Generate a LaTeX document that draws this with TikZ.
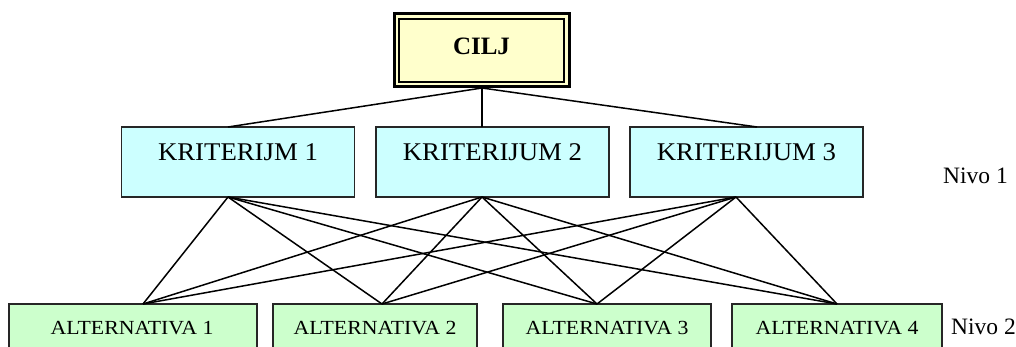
\documentclass[tikz,border=0pt]{standalone}
\usepackage{fontspec}
\setmainfont{Liberation Serif}
\newfontfamily\kfont[FakeStretch=1.05]{Liberation Serif}
\newfontfamily\afont[FakeStretch=1.09]{Liberation Serif}
\definecolor{ciljfill}{HTML}{FFFFCC}
\definecolor{kritfill}{HTML}{CCFFFF}
\definecolor{altfill}{HTML}{CCFFCC}
\begin{document}
\begin{tikzpicture}[x=1pt,y=-1pt,
  kbox/.style={draw=black!85,line width=1.7pt,fill=kritfill,inner sep=0pt,outer sep=0pt,minimum width=233pt,minimum height=70pt},
  abox/.style={draw=black!85,line width=1.7pt,fill=altfill,inner sep=0pt,outer sep=0pt,minimum height=50pt},
  ktext/.style={font=\kfont\fontsize{25.5}{28}\selectfont,inner sep=0pt,anchor=base},
  atext/.style={font=\afont\fontsize{20}{22}\selectfont,inner sep=0pt,anchor=base},
  ntext/.style={font=\fontsize{23.5}{26}\selectfont,inner sep=0pt,anchor=base west},
  link/.style={line width=1.5pt,black}]
\clip (0,0) rectangle (1016,347);
\fill[white] (0,0) rectangle (1016,347);
% goal
\node[draw=black,line width=3pt,fill=ciljfill,inner sep=0pt,outer sep=0pt,minimum width=175pt,minimum height=73pt] (cilj) at (481.5,50.5) {};
\node[draw=black,line width=1.8pt,inner sep=0pt,outer sep=0pt,minimum width=165pt,minimum height=63pt] (ciljin) at (481.5,50.5) {};
\node[font=\fontsize{25}{28}\selectfont\bfseries,inner sep=0pt,anchor=base] (ciljt) at (481.5,55) {CILJ};
% criteria
\node[kbox] (k1) at (238,162) {};
\node[kbox] (k2) at (492.5,162) {};
\node[kbox] (k3) at (746.5,162) {};
\node[ktext] (k1t) at (238,161) {KRITERIJM 1};
\node[ktext] (k2t) at (492.5,161) {KRITERIJUM 2};
\node[ktext] (k3t) at (746.5,161) {KRITERIJUM 3};
\node[ntext] (n1) at (943,184) {Nivo 1};
% alternatives
\node[abox,minimum width=248pt] (a1) at (133,329) {};
\node[abox,minimum width=204pt] (a2) at (375,329) {};
\node[abox,minimum width=208pt] (a3) at (607,329) {};
\node[abox,minimum width=210pt] (a4) at (837,329) {};
\node[atext] (a1t) at (132,334) {ALTERNATIVA 1};
\node[atext] (a2t) at (375,334) {ALTERNATIVA 2};
\node[atext] (a3t) at (607,334) {ALTERNATIVA 3};
\node[atext] (a4t) at (837,334) {ALTERNATIVA 4};
\node[ntext] (n2) at (951,334) {Nivo 2};
% connection points
\coordinate (cb) at (482,88);
\coordinate (k1n) at (228,127);
\coordinate (k2n) at (482,127);
\coordinate (k3n) at (757,127);
\coordinate (k1s) at (228,197);
\coordinate (k2s) at (482,197);
\coordinate (k3s) at (736,197);
\coordinate (a1n) at (143,304);
\coordinate (a2n) at (382,304);
\coordinate (a3n) at (597,304);
\coordinate (a4n) at (837,304);
\draw[link] (cb) -- (k1n);
\draw[link] (cb) -- (k2n);
\draw[link] (cb) -- (k3n);
\foreach \k in {k1s,k2s,k3s}{
  \foreach \a in {a1n,a2n,a3n,a4n}{
    \draw[link] (\k) -- (\a);
  }
}
\end{tikzpicture}
\end{document}
